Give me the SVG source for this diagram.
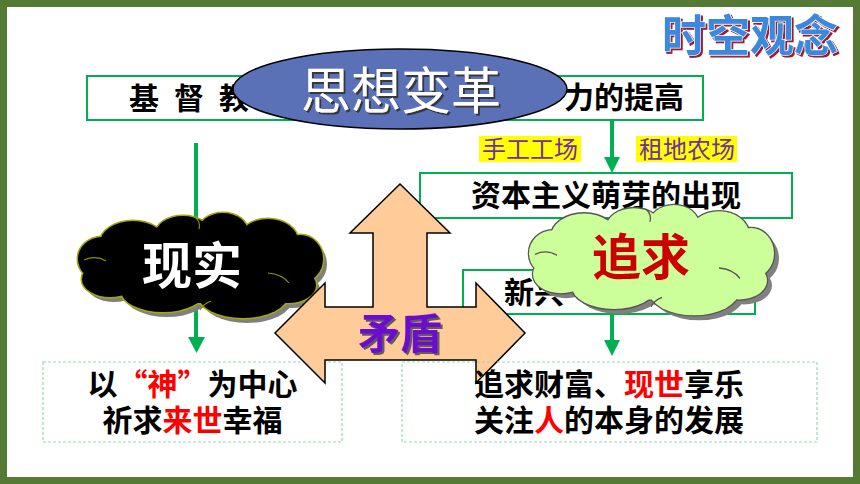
<svg xmlns="http://www.w3.org/2000/svg" width="860" height="484" viewBox="0 0 860 484">
<defs>
<style>
.cjk{font-family:"Noto Sans CJK SC","Noto Sans CJK JP",sans-serif;}
.box{fill:#ffffff;stroke:#00b050;stroke-width:2;}
.dash{fill:none;stroke:#8fdcb0;stroke-width:1.2;stroke-dasharray:3 2;}
.t{font-size:30px;font-weight:700;fill:#000000;}
.red{fill:#ff0000;}
.lbl{font-size:24px;fill:#7030a0;}
.hl{fill:#ffff00;}
.conn{stroke:#00b050;stroke-width:4;fill:none;}
.head{fill:#00b050;}
.shadow{fill:#808080;}
</style>
<filter id="sh1" x="-10%" y="-10%" width="130%" height="140%">
  <feDropShadow dx="2" dy="2" stdDeviation="0.6" flood-color="#303030" flood-opacity="0.9"/>
</filter>
<filter id="sh2" x="-10%" y="-10%" width="130%" height="140%">
  <feDropShadow dx="2" dy="2" stdDeviation="0.3" flood-color="#9b1b30" flood-opacity="1"/>
</filter>
<filter id="sh3" x="-10%" y="-10%" width="130%" height="140%">
  <feDropShadow dx="2" dy="2" stdDeviation="0.5" flood-color="#404040" flood-opacity="0.8"/>
</filter>
<g id="cloudShape">
  <ellipse cx="122" cy="55" rx="100" ry="35"/>
  <ellipse cx="24" cy="46" rx="24" ry="22"/>
  <ellipse cx="55" cy="30" rx="33" ry="22"/>
  <ellipse cx="105" cy="22" rx="28" ry="19"/>
  <ellipse cx="145" cy="19" rx="25" ry="19"/>
  <ellipse cx="190" cy="28" rx="30" ry="22"/>
  <ellipse cx="222" cy="46" rx="23" ry="24"/>
  <ellipse cx="210" cy="72" rx="28" ry="18"/>
  <ellipse cx="165" cy="82" rx="45" ry="23"/>
  <ellipse cx="85" cy="78" rx="42" ry="21"/>
  <ellipse cx="32" cy="66" rx="28" ry="18"/>
</g>
<g id="cloudInner" fill="none">
  <path d="M 6 47 Q 18 42 28 48"/>
  <path d="M 117 4 Q 123 9 121 16"/>
  <path d="M 190 60 Q 204 61 211 70"/>
  <path d="M 122 97 Q 125 91 133 88"/>
</g>
</defs>

<rect x="3.5" y="3.5" width="853" height="477" fill="#ffffff" stroke="#557a36" stroke-width="7"/>

<g id="n-title">
  <text class="cjk" x="750" y="52" text-anchor="middle" font-size="44" font-weight="700" fill="#3a88dc" stroke="#ffffff" stroke-width="1.2" paint-order="stroke" filter="url(#sh2)">时空观念</text>
</g>

<g id="connectors">
  <line class="conn" x1="196" y1="143" x2="196" y2="339"/>
  <polygon class="head" points="188,337 205,337 196.5,353"/>
  <line class="conn" x1="612" y1="121" x2="612" y2="159"/>
  <polygon class="head" points="604,157 620,157 612,173"/>
  <line class="conn" x1="612" y1="315" x2="612" y2="342"/>
  <polygon class="head" points="604,340 620,340 612,356"/>
</g>

<g id="n-top-box">
  <rect class="box" x="87" y="76" width="616" height="44"/>
  <text class="cjk t" x="129 174 219" y="109" font-size="29">基督教</text>
  <text class="cjk t" x="564" y="108" font-size="29">力的提高</text>
</g>

<g id="n-ideas">
  <ellipse cx="400" cy="89" rx="167" ry="40" fill="#5b71b7" stroke="#000000" stroke-width="1.5"/>
  <text class="cjk" x="401" y="109" text-anchor="middle" font-size="50" fill="#ffffff" filter="url(#sh1)">思想变革</text>
</g>

<g id="n-label-workshop">
  <rect class="hl" x="479" y="136" width="102" height="26"/>
  <text class="cjk lbl" x="482" y="158">手工工场</text>
</g>
<g id="n-label-farm">
  <rect class="hl" x="636" y="136" width="101" height="26"/>
  <text class="cjk lbl" x="639" y="158">租地农场</text>
</g>

<g id="n-capital">
  <rect class="box" x="420" y="173" width="372" height="45"/>
  <text class="cjk t" x="606" y="206" text-anchor="middle">资本主义萌芽的出现</text>
</g>

<g id="n-bourgeois">
  <rect class="box" x="463" y="270" width="292" height="44"/>
  <text class="cjk t" x="504" y="303">新兴</text>
</g>

<g id="n-left-result">
  <rect class="dash" x="43" y="362" width="299" height="80"/>
  <text class="cjk t" x="192.5" y="395" text-anchor="middle">以<tspan class="red">“神”</tspan>为中心<tspan x="192.5" y="431">祈求</tspan><tspan class="red">来世</tspan>幸福</text>
</g>

<g id="n-reality">
  <use href="#cloudShape" class="shadow" transform="translate(82,218)"/>
  <use href="#cloudShape" fill="#000000" stroke="#a8a800" stroke-width="3" transform="translate(78,213)"/>
  <use href="#cloudShape" fill="#000000" transform="translate(78,213)"/>
  <use href="#cloudInner" stroke="#8f8f00" stroke-width="1.2" transform="translate(78,213)"/>
  <text class="cjk" x="192" y="284" text-anchor="middle" font-size="50" font-weight="700" fill="#ffffff">现实</text>
</g>

<g id="n-pursuit">
  <use href="#cloudShape" class="shadow" transform="translate(534,210) scale(1,1.05)"/>
  <use href="#cloudShape" fill="#ccff99" stroke="#555555" stroke-width="2.5" transform="translate(529,205) scale(1,1.05)"/>
  <use href="#cloudShape" fill="#ccff99" transform="translate(529,205) scale(1,1.05)"/>
  <use href="#cloudInner" stroke="#555555" stroke-width="1.2" transform="translate(529,205) scale(1,1.05)"/>
  <text class="cjk" x="641" y="275" text-anchor="middle" font-size="49" font-weight="700" fill="#cc0000">追求</text>
</g>

<g id="n-contradiction">
  <polygon points="400,184 450,233 427,233 427,307 476,307 476,283 525,333 476,383 476,360 325,360 325,383 275,333 325,283 325,307 373,307 373,233 350,233" fill="#ffcc99" stroke="#000000" stroke-width="1.5" stroke-linejoin="miter"/>
  <text class="cjk" x="400" y="349" text-anchor="middle" font-size="42" font-weight="700" fill="#6a0fcc" filter="url(#sh3)">矛盾</text>
</g>

<g id="n-right-result">
  <rect class="dash" x="402" y="362" width="415" height="80"/>
  <text class="cjk t" x="474" y="395">追求财富、<tspan class="red">现世</tspan>享乐<tspan x="474" y="431">关注</tspan><tspan class="red">人</tspan>的本身的发展</text>
</g>
</svg>
